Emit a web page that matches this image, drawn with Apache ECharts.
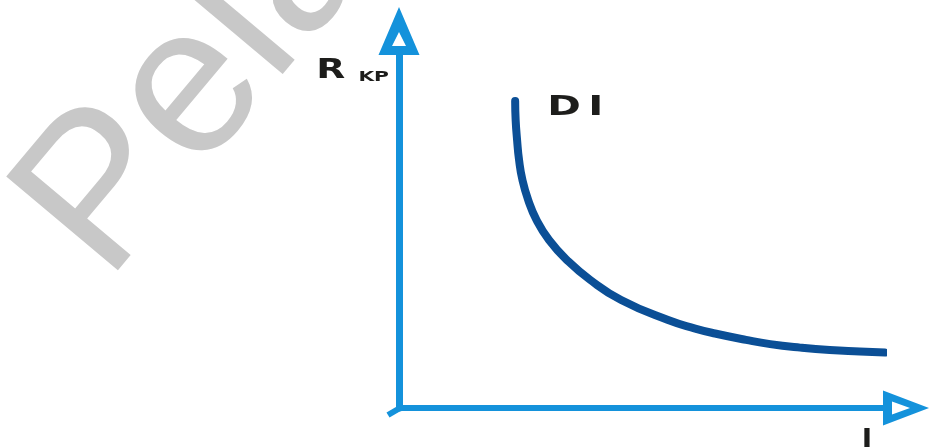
<!DOCTYPE html>
<html>
<head>
<meta charset="utf-8">
<script src="https://cdn.jsdelivr.net/npm/echarts@6/dist/echarts.min.js"></script>
<style>
html,body{margin:0;padding:0;background:#ffffff;}
#chart{width:929px;height:447px;}
</style>
</head>
<body>
<div id="chart"></div>
<script>
// Curve DI: current I (x) vs resistance R_KP (y), arbitrary units 0..100
const currentI = [24.0, 24.1, 24.4, 24.8, 25.5, 26.7, 28.4, 31.0, 34.7, 39.5, 45.9, 55.6, 61.2, 65.3, 71.7, 76.7, 82.9, 89.0, 95.2, 100.4];
const resistanceR = [87.0, 81.6, 75.9, 70.3, 64.6, 58.9, 53.3, 47.6, 41.9, 36.3, 30.6, 24.9, 22.5, 21.1, 19.3, 18.1, 17.1, 16.4, 16.0, 15.7];
const seriesName = 'DI';
const xAxisName = 'I';
const yAxisMain = 'R';
const yAxisSub = 'KP';
const watermarkText = 'Pelajaran';

const AXIS_COLOR = '#1492db';
const CURVE_COLOR = '#0b4f96';
const TEXT_COLOR = '#1d1d1b';
const FONT = 'DejaVu Sans';

// hollow open-triangle arrow heads (pointing up in symbol space)
const yArrow = 'path://M20.5 0 L41 48 L0 48 Z M20.5 25 L13.5 39 L27.5 39 Z';
const xArrow = 'path://M17.5 0 L35 46 L0 46 Z M17.5 19 L11 37 L24 37 Z';

const points = currentI.map((x, i) => [x, resistanceR[i]]);

const chart = echarts.init(document.getElementById('chart'), null, {renderer: 'canvas'});

const watermark = {
  type: 'text',
  id: 'watermark',
  z: -10,
  x: 62,
  y: 246,
  rotation: 50 * Math.PI / 180,
  silent: true,
  style: {
    text: watermarkText,
    fontSize: 212,
    fontFamily: 'Liberation Sans',
    fill: '#c8c8c8',
    align: 'left',
    verticalAlign: 'middle'
  }
};

const option = {
  animation: false,
  backgroundColor: '#ffffff',
  grid: {left: 399, right: 46, top: 55, bottom: 39, containLabel: false, outerBoundsMode: 'none'},
  graphic: [watermark],
  xAxis: {
    type: 'value',
    min: 0,
    max: 100,
    name: xAxisName,
    nameLocation: 'end',
    nameGap: -16,
    nameTextStyle: {
      fontFamily: FONT, fontWeight: 'bold', fontSize: 28, color: TEXT_COLOR,
      align: 'center', verticalAlign: 'top', padding: [20, 0, 0, 0]
    },
    axisLine: {
      show: true, onZero: false,
      lineStyle: {color: AXIS_COLOR, width: 6},
      symbol: ['none', xArrow], symbolSize: [35, 46], symbolOffset: [0, 23]
    },
    axisTick: {show: false},
    axisLabel: {show: false},
    splitLine: {show: false}
  },
  yAxis: {
    type: 'value',
    min: 0,
    max: 100,
    axisLine: {
      show: true, onZero: false,
      lineStyle: {color: AXIS_COLOR, width: 7},
      symbol: ['none', yArrow], symbolSize: [41, 48], symbolOffset: [0, 24]
    },
    axisTick: {show: false},
    axisLabel: {show: false},
    splitLine: {show: false}
  },
  series: [{
    name: seriesName,
    type: 'line',
    data: points,
    smooth: 0.5,
    symbol: 'none',
    clip: false,
    lineStyle: {color: CURVE_COLOR, width: 8, cap: 'round', join: 'round'}
  }]
};
chart.setOption(option);

// labels in the wide, extended lettering of the original, anchored to the axes / curve
const axisTop = chart.convertToPixel({gridIndex: 0}, [0, 100]);
const axisOrigin = chart.convertToPixel({gridIndex: 0}, [0, 0]);
const curveStart = chart.convertToPixel({seriesIndex: 0}, points[0]);
chart.setOption({
  graphic: [
    watermark,
    {
      type: 'line',
      id: 'originStub',
      silent: true,
      shape: {x1: axisOrigin[0] + 1, y1: axisOrigin[1], x2: axisOrigin[0] - 11, y2: axisOrigin[1] + 7},
      style: {stroke: AXIS_COLOR, lineWidth: 6}
    },
    {
      type: 'text',
      id: 'yName',
      x: axisTop[0] - 10,
      y: axisTop[1] + 16,
      scaleX: 1.45,
      silent: true,
      style: {
        text: '{r|' + yAxisMain + '}{k|' + yAxisSub + '}',
        align: 'right',
        verticalAlign: 'middle',
        rich: {
          r: {fontFamily: FONT, fontWeight: 'bold', fontSize: 26, fill: TEXT_COLOR, verticalAlign: 'bottom', lineHeight: 27},
          k: {fontFamily: FONT, fontWeight: 'bold', fontSize: 14, fill: TEXT_COLOR, verticalAlign: 'bottom', lineHeight: 17, padding: [0, 0, 0, 9]}
        }
      }
    },
    {
      type: 'text',
      id: 'seriesLabel',
      x: curveStart[0] + 32,
      y: curveStart[1] + 7,
      scaleX: 1.5,
      silent: true,
      style: {
        text: '{d|D}{i|I}',
        align: 'left',
        verticalAlign: 'middle',
        rich: {
          d: {fontFamily: FONT, fontWeight: 'bold', fontSize: 27, fill: TEXT_COLOR},
          i: {fontFamily: FONT, fontWeight: 'bold', fontSize: 27, fill: TEXT_COLOR, padding: [0, 0, 0, 5]}
        }
      }
    }
  ]
});
</script>
</body>
</html>
